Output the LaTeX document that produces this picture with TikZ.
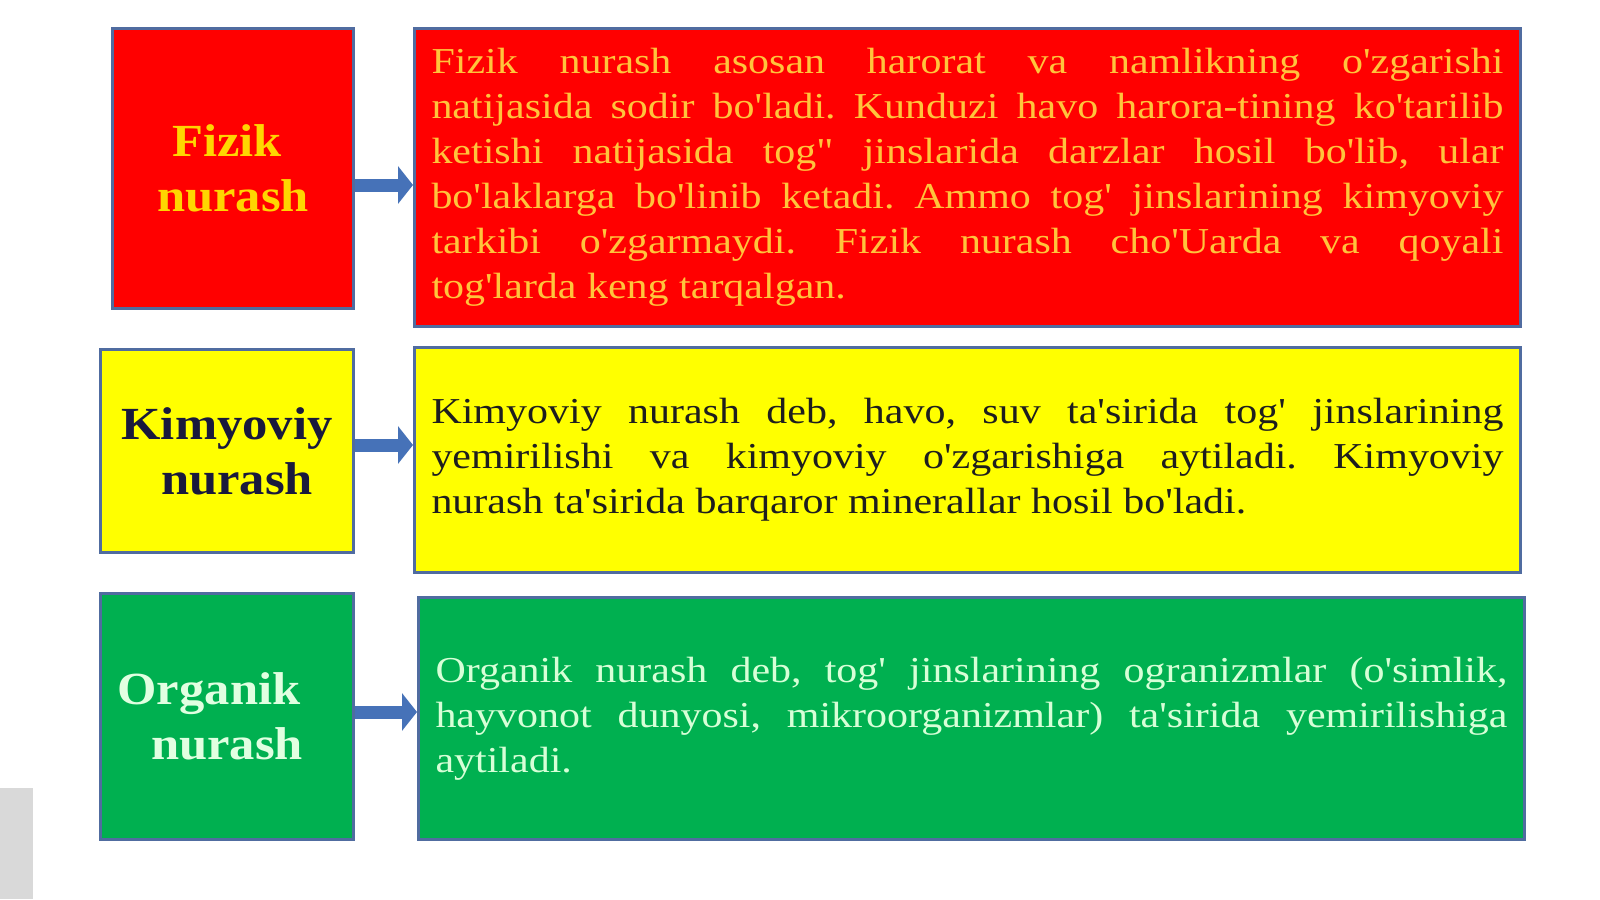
\documentclass[tikz,border=0pt]{standalone}
\usepackage{fontspec}
\usetikzlibrary{arrows.meta}
\newfontfamily\bodyfont[FakeStretch=1.15,Ligatures=TeXOff]{Liberation Serif}
\newfontfamily\labelfont[FakeStretch=1.1,Ligatures=TeXOff]{Liberation Serif}
\definecolor{frame}{RGB}{80,108,160}
\definecolor{arrowblue}{RGB}{70,114,184}
\definecolor{redfill}{RGB}{255,0,0}
\definecolor{yellowfill}{RGB}{255,255,0}
\definecolor{greenfill}{RGB}{0,176,80}
\definecolor{redlabel}{RGB}{255,214,0}
\definecolor{redtext}{RGB}{255,196,60}
\definecolor{yellowlabel}{RGB}{25,25,60}
\definecolor{yellowtext}{RGB}{30,30,30}
\definecolor{greenlabel}{RGB}{225,255,225}
\definecolor{greentext}{RGB}{215,255,215}
\definecolor{greyblock}{RGB}{217,217,217}
\frenchspacing
\begin{document}
\begin{tikzpicture}[x=1pt,y=-1pt,
  box/.style={draw=frame,line width=3pt,anchor=north west,inner sep=0pt},
  labelbox/.style={box,align=center,font=\labelfont\bfseries\fontsize{46}{55}\selectfont},
  textbox/.style={box,align=justify,inner xsep=17pt,font=\bodyfont\fontsize{36.5}{45}\selectfont},
  arr/.style={draw=arrowblue,line width=13pt,-{Triangle[length=15pt,width=37pt]}}]
\useasboundingbox[fill=white] (0,0) rectangle (1600,899);
\fill[greyblock] (0,788) rectangle (33,899);
% row 1
\node[labelbox,fill=redfill,text=redlabel,minimum width=241pt,minimum height=280pt] (fizik) at (111,27) {Fizik\hspace*{12pt}\\nurash};
\node[textbox,fill=redfill,text=redtext,minimum width=1106pt,minimum height=298pt,text width=1072pt] (fizikt) at (413,27)
{Fizik nurash asosan harorat va namlikning o'zgarishi\linebreak
natijasida sodir bo'ladi. Kunduzi havo harora-tining ko'tarilib\linebreak
ketishi natijasida tog" jinslarida darzlar hosil bo'lib, ular\linebreak
bo'laklarga bo'linib ketadi. Ammo tog' jinslarining kimyoviy\linebreak
tarkibi o'zgarmaydi. Fizik nurash cho'Uarda va qoyali\linebreak
tog'larda keng tarqalgan.};
% row 2
\node[labelbox,fill=yellowfill,text=yellowlabel,minimum width=253pt,minimum height=203pt] (kimyo) at (99,348) {Kimyoviy\\\hspace*{20pt}nurash};
\node[textbox,fill=yellowfill,text=yellowtext,minimum width=1106pt,minimum height=225pt,text width=1072pt] (kimyot) at (413,346)
{Kimyoviy nurash deb, havo, suv ta'sirida tog' jinslarining\linebreak
yemirilishi va kimyoviy o'zgarishiga aytiladi. Kimyoviy\linebreak
nurash ta'sirida barqaror minerallar hosil bo'ladi.};
% row 3
\node[labelbox,fill=greenfill,text=greenlabel,minimum width=253pt,minimum height=246pt] (organ) at (99,592) {Organik\hspace*{36pt}\\nurash};
\node[textbox,fill=greenfill,text=greentext,minimum width=1106pt,minimum height=242pt,text width=1072pt] (organt) at (417,596)
{Organik nurash deb, tog' jinslarining ogranizmlar (o'simlik,\linebreak
hayvonot dunyosi, mikroorganizmlar) ta'sirida yemirilishiga\linebreak
aytiladi.};
% arrows
\draw[arr] (fizik.east |- 0,185) -- (fizikt.west |- 0,185);
\draw[arr] (kimyo.east |- 0,445) -- (kimyot.west |- 0,445);
\draw[arr] (organ.east |- 0,712) -- (organt.west |- 0,712);
\end{tikzpicture}
\end{document}
